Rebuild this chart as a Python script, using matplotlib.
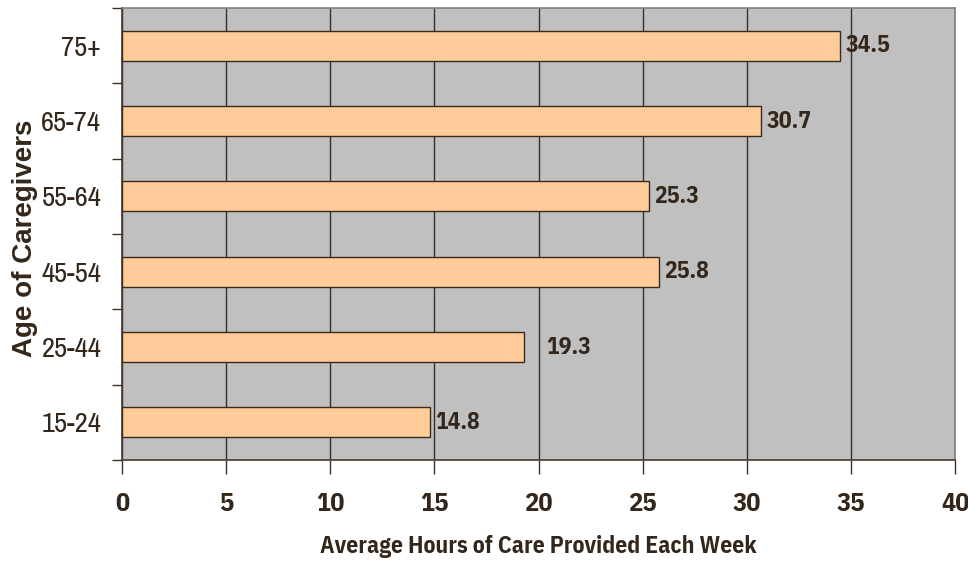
import matplotlib
matplotlib.use("Agg")
import matplotlib.pyplot as plt
import numpy as np

# Average weekly care hours by caregiver age group
age_groups = ["15-24", "25-44", "45-54", "55-64", "65-74", "75+"]
hours = [14.8, 19.3, 25.8, 25.3, 30.7, 34.5]
x_ticks = [0, 5, 10, 15, 20, 25, 30, 35, 40]

TEXT = "#33261a"
GRID = "#3d2e22"
NARROW = ["Archivo Narrow", "DejaVu Sans"]
NARROW_BOLD = ["IBM Plex Sans Condensed", "DejaVu Sans"]
WIDE_BOLD = ["Liberation Sans", "DejaVu Sans"]

fig = plt.figure(figsize=(9.68, 5.64), dpi=100)
ax = fig.add_axes([122 / 968, 1 - 460 / 564, (955 - 122) / 968, (460 - 8) / 564])
ax.set_facecolor("#c0c0c0")

y = np.arange(len(age_groups))
bars = ax.barh(y, hours, height=0.4, color="#ffcc99", edgecolor="#3a2a1c",
               linewidth=1.0, zorder=3)

ax.set_xlim(0, 40)
ax.set_ylim(-0.5, len(age_groups) - 0.5)

# vertical gridlines
ax.set_xticks(x_ticks)
ax.xaxis.grid(True, color=GRID, linewidth=1.0, zorder=1)
ax.set_axisbelow(True)
ax.set_xticklabels([str(t) for t in x_ticks], fontfamily=NARROW_BOLD,
                   fontweight="bold", fontsize=19, color=TEXT)
ax.tick_params(axis="x", direction="out", length=10, width=1, color=GRID, pad=13)

# category labels centred on bars, ticks on the category boundaries
ax.set_yticks(y)
ax.set_yticklabels(age_groups, fontfamily=NARROW, fontsize=20.5, color=TEXT)
ax.tick_params(axis="y", which="major", length=0, pad=15)
ax.set_yticks(np.arange(-0.5, len(age_groups)), minor=True)
ax.tick_params(axis="y", which="minor", direction="out", length=7, width=1, color=GRID)

for side in ("left", "bottom"):
    ax.spines[side].set_color("#4a3a2c")
    ax.spines[side].set_linewidth(1.2)
for side in ("top", "right"):
    ax.spines[side].set_color("#808080")
    ax.spines[side].set_linewidth(1.2)

# value labels
for rect, val in zip(bars, hours):
    offset = 1.05 if val == 19.3 else 0.25
    ax.text(val + offset, rect.get_y() + rect.get_height() / 2, f"{val}",
            va="center", ha="left", fontfamily=NARROW_BOLD, fontweight="bold",
            fontsize=17, color=TEXT, zorder=4)

fig.text(538 / 968, 1 - 553 / 564, "Average Hours of Care Provided Each Week",
         ha="center", va="baseline", fontfamily=NARROW_BOLD, fontweight="bold",
         fontsize=17, color=TEXT)
fig.text(25 / 968, 1 - 238 / 564, "Age of Caregivers", rotation=90,
         ha="center", va="center", fontfamily=WIDE_BOLD,
         fontweight="bold", fontsize=20, color=TEXT)

fig.savefig("out.png", dpi=100, facecolor="white")
